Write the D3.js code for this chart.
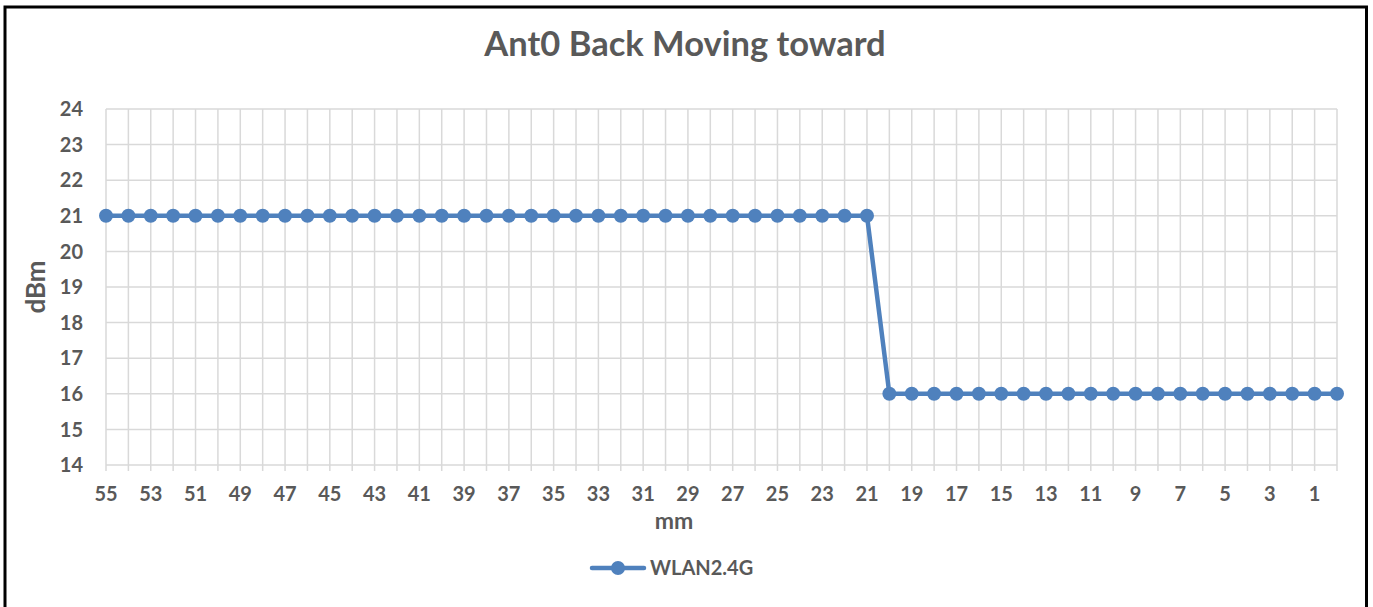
<!DOCTYPE html>
<html><head><meta charset="utf-8">
<script src="https://cdn.jsdelivr.net/npm/d3@7"></script>
<style>
html,body{margin:0;padding:0;background:#fff;}
text{font-family:Lato,"Open Sans",sans-serif;font-weight:bold;fill:#595959;}
</style></head>
<body><svg id="c" width="1373" height="607"></svg>
<script>
const title = "Ant0 Back Moving toward";
const yTitle = "dBm";
const xTitle = "mm";
const seriesName = "WLAN2.4G";
const categories = [55,54,53,52,51,50,49,48,47,46,45,44,43,42,41,40,39,38,37,36,35,34,33,32,31,30,29,28,27,26,25,24,23,22,21,20,19,18,17,16,15,14,13,12,11,10,9,8,7,6,5,4,3,2,1,0];
const values = [21,21,21,21,21,21,21,21,21,21,21,21,21,21,21,21,21,21,21,21,21,21,21,21,21,21,21,21,21,21,21,21,21,21,21,16,16,16,16,16,16,16,16,16,16,16,16,16,16,16,16,16,16,16,16,16];
const yTicks = [14,15,16,17,18,19,20,21,22,23,24];

const svg = d3.select("#c");
const color = "#4f81bd", grid = "#d9d9d9";
const L = 106, R = 1337, T = 109, B = 465;

svg.append("rect").attr("x",5).attr("y",7).attr("width",1361.5).attr("height",700)
  .attr("fill","none").attr("stroke","#000").attr("stroke-width",3);

const x = d3.scalePoint().domain(categories).range([L,R]);
const y = d3.scaleLinear().domain([14,24]).range([B,T]);

svg.append("g").selectAll("line").data(yTicks).join("line")
  .attr("x1",L).attr("x2",R).attr("y1",d=>y(d)).attr("y2",d=>y(d))
  .attr("stroke",grid).attr("stroke-width",1.5);
svg.append("g").selectAll("line").data(categories).join("line")
  .attr("x1",d=>x(d)).attr("x2",d=>x(d)).attr("y1",T).attr("y2",B+6)
  .attr("stroke",grid).attr("stroke-width",1.5);

svg.append("g").selectAll("text").data(yTicks).join("text")
  .attr("x",83).attr("y",d=>y(d)).attr("dy","0.36em").attr("text-anchor","end")
  .attr("font-size",20).text(d=>d);
svg.append("g").selectAll("text").data(categories.filter((d,i)=>i%2===0)).join("text")
  .attr("x",d=>x(d)).attr("y",501).attr("text-anchor","middle")
  .attr("font-size",20).text(d=>d);

svg.append("text").attr("x",685).attr("y",56).attr("text-anchor","middle")
  .attr("font-size",34.5).text(title);
svg.append("text").attr("x",674).attr("y",528.5).attr("text-anchor","middle")
  .attr("font-size",23).text(xTitle);
svg.append("text").attr("transform","translate(45,287) rotate(-90)").attr("text-anchor","middle")
  .attr("font-size",26).text(yTitle);

const line = d3.line().x((d,i)=>x(categories[i])).y(d=>y(d));
svg.append("path").datum(values).attr("d",line).attr("fill","none")
  .attr("stroke",color).attr("stroke-width",4.5).attr("stroke-linejoin","round");
svg.append("g").selectAll("circle").data(values).join("circle")
  .attr("cx",(d,i)=>x(categories[i])).attr("cy",d=>y(d)).attr("r",7).attr("fill",color);

svg.append("line").attr("x1",592).attr("x2",644).attr("y1",568).attr("y2",568)
  .attr("stroke",color).attr("stroke-width",4.5).attr("stroke-linecap","round");
svg.append("circle").attr("cx",618).attr("cy",568).attr("r",7).attr("fill",color);
svg.append("text").attr("x",650).attr("y",568).attr("dy","0.36em").attr("font-size",20).text(seriesName);
</script></body></html>
